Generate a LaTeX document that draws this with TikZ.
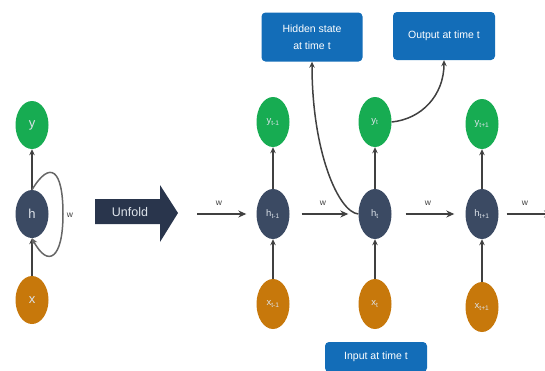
\documentclass[tikz,border=0pt]{standalone}
\usepackage{fontspec}
\setmainfont{Liberation Sans}
\usetikzlibrary{arrows.meta,calc,shapes.geometric}

\definecolor{outgreen}{HTML}{17AC52}
\definecolor{hidnavy}{HTML}{3B4A63}
\definecolor{inorange}{HTML}{C7780B}
\definecolor{tagblue}{HTML}{136DB8}
\definecolor{foldnavy}{HTML}{29354C}
\definecolor{wire}{HTML}{404040}
\definecolor{cellink}{HTML}{DDE3EA}

\begin{document}
\begin{tikzpicture}[x=1pt,y=-1pt,
  cell/.style={ellipse, minimum width=33pt, minimum height=50pt, inner sep=0pt,
               text=cellink, font=\fontsize{9.5}{10}\selectfont},
  bigcell/.style={cell, minimum height=48pt, font=\fontsize{13}{14}\selectfont},
  ycell/.style={fill=outgreen},
  hcell/.style={fill=hidnavy},
  xcell/.style={fill=inorange},
  tag/.style={fill=tagblue, rounded corners=4pt, text=white, align=center,
              inner sep=0pt, font=\fontsize{10.5}{17}\selectfont},
  conn/.style={draw=wire, line width=1.5pt, -{Stealth[length=6pt,width=5.5pt]}},
  wide/.style={-{Stealth[length=8pt,width=7pt]}},
  wlabel/.style={text=wire, font=\fontsize{8.5}{9}\selectfont, inner sep=0pt}
]
\useasboundingbox (0,0) rectangle (545,370);

% folded network
\node[bigcell, ycell] (yL) at (32,125) {y};
\node[bigcell, hcell] (hL) at (32,214) {h};
\node[bigcell, xcell] (xL) at (32,300) {x};
\draw[conn] (xL) -- (hL);
\draw[conn] (hL) -- (yL);
\draw[conn, draw=wire!80] (hL.north) .. controls +(18,-30) and +(0,-45) .. ($(hL)+(31,0)$)
                       .. controls +(0,45) and +(16,30) .. (hL.south);
\node[wlabel] (wL) at (70,215) {w};

% unfold arrow
\fill[foldnavy] (95,199) -- (160,199) -- (160,185) -- (178,213) -- (160,242)
                -- (160,224) -- (95,224) -- cycle;
\node[text=cellink, font=\fontsize{12.5}{13}\selectfont] (unfold) at (130,212) {Unfold};

% unrolled network
\node[cell, ycell] (yA) at (273,122) {y\textsubscript{t-1}};
\node[cell, hcell] (hA) at (273,214) {h\textsubscript{t-1}};
\node[cell, xcell] (xA) at (273,304) {x\textsubscript{t-1}};
\node[cell, ycell] (yB) at (375,122) {y\textsubscript{t}};
\node[cell, hcell] (hB) at (375,214) {h\textsubscript{t}};
\node[cell, xcell] (xB) at (375,304) {x\textsubscript{t}};
\node[cell, ycell] (yC) at (482,124) {y\textsubscript{t+1}};
\node[cell, hcell] (hC) at (482,214) {h\textsubscript{t+1}};
\node[cell, xcell] (xC) at (482,307) {x\textsubscript{t+1}};

\foreach \c in {A,B,C}{
  \draw[conn] (x\c) -- (h\c);
  \draw[conn] (h\c) -- (y\c);
}

\coordinate (win) at (197,214);
\coordinate (wout) at (552,214);
\draw[conn, wide, shorten >=10pt] (win) -- (hA.west);
\draw[conn, wide, shorten <=12pt, shorten >=10pt] (hA.east) -- (hB.west);
\draw[conn, wide, shorten <=14pt, shorten >=11pt] (hB.east) -- (hC.west);
\draw[conn, wide, shorten <=8pt] (hC.east) -- (wout);
\node[wlabel] (w1) at (219,203) {w};
\node[wlabel] (w2) at (323,203) {w};
\node[wlabel] (w3) at (428,203) {w};
\node[wlabel] (w4) at (525,203) {w};

% annotations
\node[tag, minimum width=101pt, minimum height=49pt] (hidden) at (312,37)
  {Hidden state\\at time t};
\node[tag, minimum width=102pt, minimum height=48pt] (output) at (444,36)
  {Output at time t};
\node[tag, minimum width=102pt, minimum height=30pt] (input) at (376,357)
  {Input at time t};

\draw[conn] (hB.west) .. controls +(-20,-2) and +(0,90) .. (hidden.south);
\draw[conn] (yB.east) .. controls +(30,-3) and +(0,35) .. (output.south);
\end{tikzpicture}
\end{document}
